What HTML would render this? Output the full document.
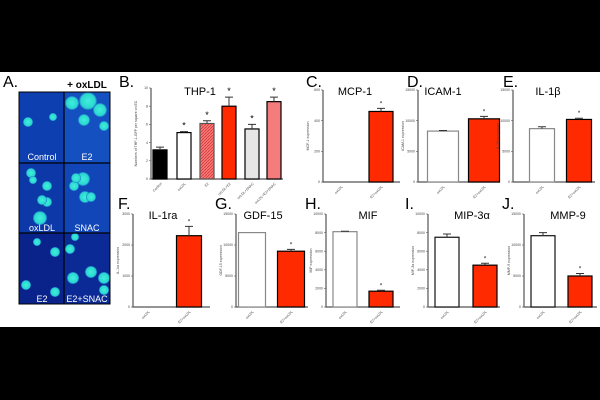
<!DOCTYPE html>
<html><head><meta charset="utf-8"><style>
body{margin:0;width:600px;height:400px;overflow:hidden;background:#fff;font-family:"Liberation Sans",sans-serif}
svg{display:block}
</style></head><body>
<svg id="fig" width="600" height="400" viewBox="0 0 600 400">
<rect x="0" y="0" width="600" height="72" fill="#000"/>
<rect x="0" y="327" width="600" height="73" fill="#000"/>
<defs>
<pattern id="hatch" width="3" height="3" patternUnits="userSpaceOnUse"><rect width="3" height="3" fill="#f47c7c"/><path d="M0 3L3 0" stroke="#d33" stroke-width="0.8"/></pattern>
<radialGradient id="cell"><stop offset="0" stop-color="#3ff0dc"/><stop offset="0.8" stop-color="#2bd6d0"/><stop offset="1" stop-color="#1a66c8"/></radialGradient>
</defs>
<g>
<text x="3" y="87" font-size="16">A.</text>
<text x="87" y="88" font-size="10" font-weight="bold" text-anchor="middle">+ oxLDL</text>
<rect x="19" y="92" width="91" height="212" fill="#0a2a9a"/>
<rect x="19" y="92" width="45" height="71" fill="#0e3fb0"/>
<rect x="64" y="92" width="46" height="71" fill="#1550c0"/>
<rect x="19" y="163" width="45" height="70" fill="#0c38a8"/>
<rect x="64" y="163" width="46" height="70" fill="#1046b8"/>
<rect x="19" y="233" width="45" height="71" fill="#0a238a"/>
<rect x="64" y="233" width="46" height="71" fill="#0b2a95"/>
<g fill="url(#cell)">
<circle cx="28" cy="122" r="5"/><circle cx="53" cy="117" r="4"/>
<circle cx="72" cy="103" r="7"/><circle cx="88" cy="101" r="9"/><circle cx="100" cy="110" r="7"/><circle cx="84" cy="120" r="6"/><circle cx="104" cy="126" r="5"/>
<circle cx="31" cy="173" r="5"/><circle cx="47" cy="186" r="5"/><circle cx="47" cy="202" r="5"/>
<circle cx="83" cy="179" r="7"/><circle cx="74" cy="186" r="5"/><circle cx="85" cy="197" r="6"/>
<circle cx="33" cy="180" r="4"/><circle cx="42" cy="200" r="5"/><circle cx="40" cy="218" r="7"/>
<circle cx="76" cy="178" r="5"/><circle cx="91" cy="197" r="5"/>
<circle cx="37" cy="242" r="4"/><circle cx="55" cy="252" r="5"/><circle cx="26" cy="285" r="5"/><circle cx="55" cy="292" r="5"/>
<circle cx="70" cy="249" r="5"/><circle cx="75" cy="237" r="4"/><circle cx="91" cy="272" r="6"/><circle cx="73" cy="278" r="6"/><circle cx="104" cy="278" r="6"/><circle cx="104" cy="290" r="5"/>
</g>
<line x1="64" y1="92" x2="64" y2="304" stroke="#000" stroke-width="1.2"/>
<line x1="19" y1="163" x2="110" y2="163" stroke="#000" stroke-width="1.2"/>
<line x1="19" y1="233" x2="110" y2="233" stroke="#000" stroke-width="1.2"/>
<rect x="19" y="92" width="91" height="212" fill="none" stroke="#000" stroke-width="1"/>
<g fill="#fff" font-size="9" text-anchor="middle">
<text x="42" y="160">Control</text>
<text x="87" y="160">E2</text>
<text x="42" y="231">oxLDL</text>
<text x="87" y="231">SNAC</text>
<text x="42" y="302">E2</text>
<text x="87" y="302">E2+SNAC</text>
</g>
</g>
</svg>
<script>
// Panel B data
const thpCats = ["Control","oxLDL","E2","oxLDL+E2","oxLDL+SNAC","oxLDL+E2+SNAC"];
const thpVals = [3.2,5.1,6.1,8.0,5.5,8.5];
const thpErr = [0.3,0.1,0.3,1.0,0.5,0.5];
const thpStar = [false,true,true,true,true,true];
const thpTicks = [0,2,4,6,8,10];
// Two-group panels data
const twoCats = ["oxLDL","E2+oxLDL"];
const mcpVals = [0,460]; const mcpErr = [0,20]; const mcpTicks=[0,200,400,600];
const icamVals = [8300,10300]; const icamErr=[100,400]; const icamTicks=[0,5000,10000,15000];
const il1bVals = [8700,10200]; const il1bErr=[300,200]; const il1bTicks=[0,5000,10000,15000];
const il1raVals = [0,2300]; const il1raErr=[0,300]; const il1raTicks=[0,1000,2000,3000];
const gdfVals = [12000,9000]; const gdfErr=[0,300]; const gdfTicks=[0,5000,10000,15000];
const mifVals = [8100,1700]; const mifErr=[50,100]; const mifTicks=[0,2000,4000,6000,8000,10000];
const mip3Vals = [7500,4500]; const mip3Err=[350,200]; const mip3Ticks=[0,2000,4000,6000,8000,10000];
const mmpVals = [11500,5000]; const mmpErr=[500,400]; const mmpTicks=[0,5000,10000,15000];

const NS="http://www.w3.org/2000/svg";
const svg=document.getElementById('fig');
function mk(tag,attrs,parent){const e=document.createElementNS(NS,tag);for(const k in attrs)e.setAttribute(k,attrs[k]);(parent||svg).appendChild(e);return e;}

function panel(o){
  const g=mk('g',{});
  
  
  const lab=mk('text',{x:o.lx,y:o.ly,'font-size':16},g);lab.textContent=o.letter;
  
  
  const t=mk('text',{x:o.tx,y:o.ty,'font-size':11,'text-anchor':'middle'},g);t.textContent=o.title;
  
  
  const max=o.ticks[o.ticks.length-1];
  const y=v=>o.y1-(v/max)*(o.y1-o.y0);
  const x=i=>o.x0+o.bx[i];
  const ax=mk('path',{d:`M${o.x0} ${o.y0}V${o.y1}H${o.x1}`,stroke:'#555',fill:'none','stroke-width':1.2},g);
  
  
  o.ticks.forEach(tv=>{
    mk('line',{x1:o.x0-2,x2:o.x0,y1:y(tv),y2:y(tv),stroke:'#555','stroke-width':0.6},g);
    const tt=mk('text',{x:o.x0-3,y:y(tv)+1.2,'font-size':3.5,'text-anchor':'end',fill:'#444'},g);tt.textContent=tv;
    
    
  });
  const yl=mk('text',{x:0,y:0,'font-size':3.5,'text-anchor':'middle',fill:'#444',transform:`translate(${o.x0-14},${(o.y0+o.y1)/2}) rotate(-90)`},g);yl.textContent=o.ylabel;
  
  
  o.vals.forEach((v,i)=>{
    const cx=x(i),w=o.bw;
    if(v>0){
      const r=mk('rect',{x:cx-w/2,y:y(v),width:w,height:o.y1-y(v),fill:o.fills[i],stroke:o.strokes[i],'stroke-width':1.2},g);
      
      
      if(o.err[i]>0){
        const ey=y(v+o.err[i]);
        mk('path',{d:`M${cx} ${y(v)}V${ey}M${cx-4} ${ey}H${cx+4}`,stroke:'#333','stroke-width':1,fill:'none'},g);
      }
      if(o.star[i]){const s=mk('text',{x:cx,y:y(v+o.err[i])-3,'font-size':o.starSize||6,'text-anchor':'middle'},g);s.textContent='*';
        
        }
    }
    const cl=mk('text',{x:0,y:0,'font-size':3.5,'text-anchor':'end',fill:'#444',transform:`translate(${cx+2},${o.y1+5}) rotate(-45)`},g);cl.textContent=o.cats[i];
    
    
  });
}
const W='#fff',R='#ff2a00',K='#000';
panel({id:'thp1',letter:'B.',lx:119,ly:87,title:'THP-1',tx:200,ty:95,x0:151,x1:283,y0:88,y1:179,ticks:thpTicks,vals:thpVals,err:thpErr,cats:thpCats,star:thpStar,bx:[9,33,56,78,101,123],bw:14,
  fills:[K,W,'url(#hatch)',R,'#e6e6e6','#f47c7c'],strokes:[K,K,'#555',K,K,K],ylabel:'Numbers of THP-1-GFP per square on EC',starSize:9});
const two=(id,letter,lx,ly,title,tx,ty,x0,x1,y0,y1,ticks,vals,err,bx,bw,ylabel,white)=>panel({id,letter,lx,ly,title,tx,ty,x0,x1,y0,y1,ticks,vals,err,cats:twoCats,star:[false,true],bx,bw,fills:[W,R],strokes:[white||'#888',K],ylabel});
two('mcp1','C.',306,87,'MCP-1',355,95,323,400,90,182,mcpTicks,mcpVals,mcpErr,[18,58],24,'MCP-1 expression');
two('icam1','D.',407,87,'ICAM-1',443,95,418,500,90,182,icamTicks,icamVals,icamErr,[25,66],31,'ICAM-1 expression');
two('il1b','E.',503,87,'IL-1\u03B2',548,95,513,595,90,182,il1bTicks,il1bVals,il1bErr,[29,66],25,'IL-1\u03B2 expression');
two('il1ra','F.',118,209,'IL-1ra',163,219,133,210,214,307,il1raTicks,il1raVals,il1raErr,[15,56],25,'IL-1ra expression');
two('gdf15','G.',215,209,'GDF-15',263,219,236,308,214,307,gdfTicks,gdfVals,gdfErr,[16,55],27,'GDF-15 expression');
two('mif','H.',305,209,'MIF',368,219,326,400,214,307,mifTicks,mifVals,mifErr,[19,55],24,'MIF expression');
two('mip3a','I.',405,209,'MIP-3\u03B1',472,219,428,500,214,307,mip3Ticks,mip3Vals,mip3Err,[19,57],24,'MIP-3\u03B1 expression','#111');
two('mmp9','J.',502,209,'MMP-9',568,219,524,597,214,307,mmpTicks,mmpVals,mmpErr,[19,56],24,'MMP-9 expression','#111');
</script>
</body></html>
